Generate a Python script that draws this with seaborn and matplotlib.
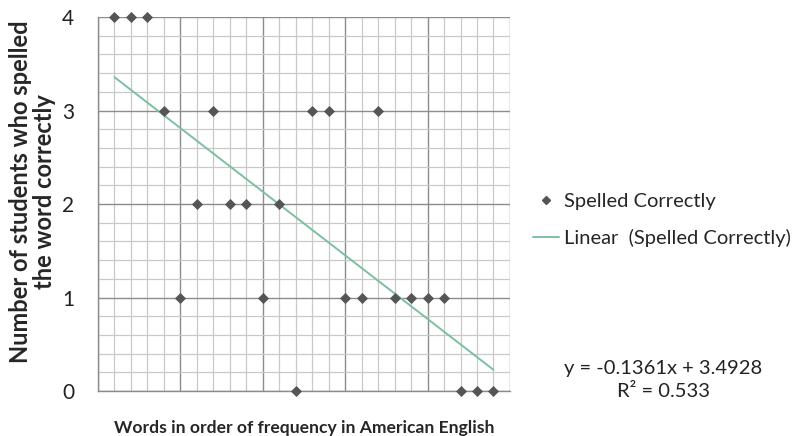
import numpy as np
import pandas as pd
import seaborn as sns
import matplotlib.pyplot as plt
from matplotlib.lines import Line2D
from matplotlib.ticker import MultipleLocator, NullFormatter

# word rank (order of frequency) and number of students who spelled it correctly
word_rank = list(range(1, 25))
spelled_correctly = [4, 4, 4, 3, 1, 2, 3, 2, 2, 1, 2, 0,
                     3, 3, 1, 1, 3, 1, 1, 1, 1, 0, 0, 0]

df = pd.DataFrame({"rank": word_rank, "correct": spelled_correctly})

sns.set_style("white")
plt.rcParams["font.family"] = ["Lato", "DejaVu Sans"]

fig = plt.figure(figsize=(8.05, 4.36), dpi=100)
ax = fig.add_axes([0.1217, 0.1032, 0.5118, 0.8578])

point_color = "#555555"
line_color = "#7cc0a0"

# trendline
sns.regplot(data=df, x="rank", y="correct", scatter=False, ci=None,
            truncate=True, color=line_color, line_kws={"lw": 1.4}, ax=ax)
sns.scatterplot(data=df, x="rank", y="correct", marker="D", s=32,
                color=point_color, edgecolor=point_color, linewidth=0,
                zorder=5, clip_on=False, ax=ax)

ax.set_xlim(0, 25)
ax.set_ylim(0, 4)
ax.xaxis.set_major_locator(MultipleLocator(5))
ax.xaxis.set_minor_locator(MultipleLocator(1))
ax.yaxis.set_major_locator(MultipleLocator(1))
ax.yaxis.set_minor_locator(MultipleLocator(0.2))
ax.xaxis.set_major_formatter(NullFormatter())

ax.grid(which="minor", color="#c9c9c9", lw=0.9)
ax.grid(which="major", color="#8c8c8c", lw=1.0)
ax.set_axisbelow(True)

for s in ["top", "right"]:
    ax.spines[s].set_visible(False)
for s in ["left", "bottom"]:
    ax.spines[s].set_color("#8c8c8c")
    ax.spines[s].set_linewidth(1.0)

ax.tick_params(which="major", direction="out", length=7, width=1.0,
               color="#8c8c8c", labelsize=15, labelcolor="#222222", pad=10)
ax.tick_params(which="minor", length=0)
ax.tick_params(axis="x", which="major", length=8, pad=0)

ax.set_xlabel("Words in order of frequency in American English",
              fontsize=12.6, fontweight="bold", va="center")
ax.xaxis.set_label_coords(0.5, -0.099)
ax.set_ylabel("Number of students who spelled\nthe word correctly",
              fontsize=17, fontweight="bold", linespacing=1.05,
              va="center", ha="center")
ax.yaxis.set_label_coords(-0.158, 0.532)

handles = [
    Line2D([], [], marker="D", color=point_color, lw=0, markersize=4),
    Line2D([], [], color=line_color, lw=1.4),
]
fig.legend(handles, ["Spelled Correctly", "Linear  (Spelled Correctly)"],
           loc="center left", bbox_to_anchor=(0.652, 0.495), frameon=False,
           fontsize=14.5, handlelength=1.3, handletextpad=0.25,
           labelspacing=0.95, borderaxespad=0)

fig.text(0.824, 0.128, "y = -0.1361x + 3.4928\nR² = 0.533", ha="center",
         va="center", fontsize=14.5, linespacing=1.45, color="#222222")

fig.savefig("out.png", dpi=100, facecolor="white")
